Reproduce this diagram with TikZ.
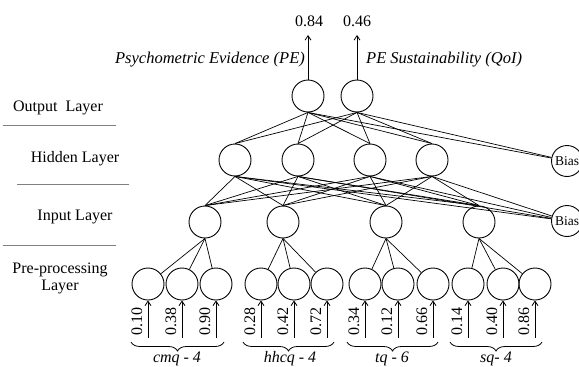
\documentclass[tikz,border=0pt]{standalone}
\usepackage{fontspec}
\setmainfont{Liberation Serif}
\usetikzlibrary{arrows.meta,decorations.pathreplacing}
\begin{document}
\begin{tikzpicture}[x=1pt,y=-1pt,
  every node/.style={font=\fontsize{16pt}{18pt}\selectfont},
  neuron/.style={circle,draw,line width=0.9pt,minimum size=32pt,inner sep=0pt},
  biasnode/.style={circle,draw,line width=0.9pt,minimum size=31pt,inner sep=0pt,font=\fontsize{13.5pt}{15pt}\selectfont},
  conn/.style={line width=0.7pt},
  inarrow/.style={line width=0.8pt,-{Straight Barb[length=4.5pt,width=6pt]}},
  sep/.style={line width=0.7pt,gray,dash pattern=on 0.4pt off 0.5pt},
  valtext/.style={rotate=90,inner sep=0pt},
  bracestyle/.style={decorate,decoration={brace,mirror,amplitude=9pt},line width=0.8pt},
  grouptext/.style={font=\fontsize{16pt}{18pt}\selectfont\itshape,inner sep=0pt},
  toptext/.style={inner sep=0pt,font=\fontsize{16.5pt}{18pt}\selectfont\itshape},
  layertext/.style={align=center,inner sep=0pt}]
\useasboundingbox (0,0) rectangle (579,367);

% layer labels
\node[layertext] (lo) at (58,108) {Output\ \ Layer};
\node[layertext] (lh) at (75,159) {Hidden Layer};
\node[layertext] (li) at (75,217) {Input Layer};
\node[layertext] (lp) at (60,278) {Pre-processing\\[-1pt]Layer};
\coordinate (s1a) at (3,125); \coordinate (s1b) at (115,125);
\coordinate (s2a) at (17,184); \coordinate (s2b) at (128,184);
\coordinate (s3a) at (3,245); \coordinate (s3b) at (115,245);
\draw[sep] (s1a) -- (s1b);
\draw[sep] (s2a) -- (s2b);
\draw[sep] (s3a) -- (s3b);

% output layer
\node[neuron] (o1) at (308,96) {};
\node[neuron] (o2) at (357,96) {};
% hidden layer
\node[neuron] (h1) at (235,160) {};
\node[neuron] (h2) at (298,160) {};
\node[neuron] (h3) at (370,160) {};
\node[neuron] (h4) at (432,160) {};
\node[biasnode] (hb) at (567,161) {Bias};
% input layer
\node[neuron] (i1) at (205,222) {};
\node[neuron] (i2) at (283,222) {};
\node[neuron] (i3) at (386,222) {};
\node[neuron] (i4) at (479,222) {};
\node[biasnode] (ib) at (567,221) {Bias};

% pre-processing layer
\foreach \n/\x/\v in {1/148/0.10,2/182/0.38,3/216/0.90,4/261/0.28,5/294/0.42,6/327/0.72,7/365/0.34,8/398/0.12,9/433/0.66,10/468/0.14,11/503/0.40,12/535/0.86}{
  \node[neuron] (p\n) at (\x,284) {};
  \coordinate (q\n) at (\x,338);
  \draw[inarrow] (q\n) -- (p\n.south);
  \node[valtext] (v\n) at (\x-11,321) {\v};
}

% pre-processing -> input
\foreach \i/\a/\b/\c in {1/1/2/3,2/4/5/6,3/7/8/9,4/10/11/12}{
  \draw[conn] (i\i.south) -- (p\a);
  \draw[conn] (i\i.south) -- (p\b);
  \draw[conn] (i\i.south) -- (p\c);
}

% input -> hidden
\foreach \i in {1,2,3,4}{
  \foreach \h in {1,2,3,4}{
    \draw[conn] (i\i.north) -- (h\h.south);
  }
}
\foreach \h in {1,2,3,4}{
  \draw[conn] (h\h.south) -- (ib);
}

% hidden -> output
\foreach \o in {1,2}{
  \foreach \h in {1,2,3,4}{
    \draw[conn] (h\h.north) -- (o\o.south);
  }
  \draw[conn] (o\o.south) -- (hb);
}

% outputs
\coordinate (t1) at (308,35);
\coordinate (t2) at (357,35);
\draw[inarrow] (o1.north) -- (t1);
\draw[inarrow] (o2.north) -- (t2);
\node (r1) at (309,21) {0.84};
\node (r2) at (357,21) {0.46};
\node[toptext,anchor=east] (n1) at (305,60) {Psychometric Evidence (PE)};
\node[toptext,anchor=west] (n2) at (366,60) {PE Sustainability (QoI)};

% braces
\coordinate (b1a) at (131,342); \coordinate (b1b) at (224,342);
\coordinate (b2a) at (243,342); \coordinate (b2b) at (334,342);
\coordinate (b3a) at (347,342); \coordinate (b3b) at (438,342);
\coordinate (b4a) at (450,342); \coordinate (b4b) at (542,342);
\draw[bracestyle] (b1a) -- (b1b);
\draw[bracestyle] (b2a) -- (b2b);
\draw[bracestyle] (b3a) -- (b3b);
\draw[bracestyle] (b4a) -- (b4b);
\node[grouptext] (g1) at (177,359) {cmq - 4};
\node[grouptext] (g2) at (290,359) {hhcq - 4};
\node[grouptext] (g3) at (392,359) {tq - 6};
\node[grouptext] (g4) at (496,359) {sq- 4};
\end{tikzpicture}
\end{document}
